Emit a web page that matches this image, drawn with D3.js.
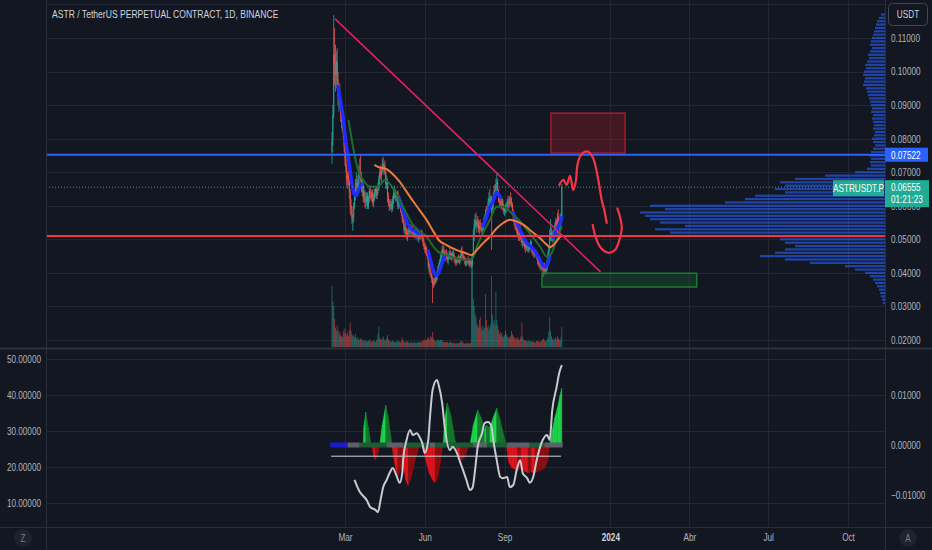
<!DOCTYPE html>
<html><head><meta charset="utf-8">
<script src="https://cdn.jsdelivr.net/npm/d3@7"></script>
<style>
html,body{margin:0;padding:0;background:#131722;overflow:hidden}
text{font-family:"Liberation Sans",Arial,sans-serif}
</style>
</head><body>
<svg id="c" width="932" height="550"></svg>
<script>
// ---------------- DATA ----------------
const startDate = "2023-02-14";
const firstOpen = 0.0760;
const closes = [
.0795,.0870,.1050,.1020,.0990,.1030,.0975,.0925,.0940,.0905,
.0870,.0850,.0860,.0815,.0775,.0740,.0715,.0680,.0690,.0670,
.0640,.0600,.0590,.0560,.0565,.0600,.0630,.0660,.0670,.0650,
.0665,.0700,.0690,.0685,.0655,.0660,.0625,.0640,.0610,.0615,
.0630,.0600,.0620,.0645,.0635,.0625,.0640,.0610,.0625,.0640,
.0650,.0630,.0645,.0660,.0680,.0700,.0690,.0705,.0725,.0715,
.0720,.0700,.0665,.0680,.0630,.0615,.0595,.0605,.0600,.0590,
.0620,.0635,.0645,.0625,.0630,.0640,.0600,.0615,.0605,.0590,
.0580,.0560,.0555,.0530,.0535,.0525,.0515,.0520,.0525,.0520,
.0535,.0525,.0530,.0520,.0515,.0525,.0510,.0520,.0525,.0505,
.0510,.0515,.0510,.0520,.0505,.0490,.0480,.0470,.0475,.0460,
.0450,.0420,.0425,.0400,.0395,.0380,.0365,.0375,.0370,.0385,
.0380,.0395,.0410,.0420,.0430,.0445,.0455,.0470,.0465,.0460,
.0450,.0455,.0445,.0440,.0450,.0455,.0460,.0450,.0445,.0455,
.0450,.0440,.0435,.0430,.0440,.0445,.0435,.0440,.0450,.0465,
.0450,.0445,.0440,.0435,.0430,.0435,.0440,.0435,.0425,.0435,
.0430,.0425,.0450,.0510,.0545,.0555,.0540,.0550,.0545,.0530,
.0540,.0535,.0530,.0525,.0540,.0555,.0565,.0580,.0575,.0590,
.0610,.0625,.0610,.0620,.0590,.0600,.0630,.0645,.0640,.0665,
.0670,.0640,.0620,.0615,.0605,.0600,.0615,.0595,.0585,.0590,
.0595,.0600,.0610,.0615,.0605,.0620,.0615,.0605,.0580,.0565,
.0550,.0545,.0535,.0525,.0515,.0505,.0520,.0510,.0500,.0490,
.0495,.0500,.0480,.0475,.0485,.0480,.0470,.0475,.0485,.0490,
.0470,.0465,.0460,.0455,.0460,.0455,.0450,.0435,.0430,.0425,
.0420,.0420,.0415,.0410,.0420,.0410,.0405,.0410,.0435,.0455,
.0470,.0510,.0520,.0505,.0515,.0505,.0515,.0545,.0555,.0540,
.0570,.0555,.0550,.0565,.0570,.0656];
const highs = [
.0820,.0900,.1168,.1130,.1080,.1060,.1070,.1000,.0950,.0965,
.0920,.0890,.0870,.0880,.0830,.0790,.0760,.0725,.0700,.0705,
.0680,.0650,.0620,.0600,.0575,.0610,.0640,.0680,.0700,.0690,
.0680,.0720,.0740,.0752,.0700,.0675,.0670,.0650,.0645,.0625,
.0640,.0640,.0630,.0660,.0660,.0650,.0645,.0650,.0635,.0650,
.0660,.0655,.0650,.0670,.0690,.0710,.0720,.0710,.0740,.0746,
.0730,.0735,.0705,.0690,.0680,.0640,.0620,.0615,.0620,.0615,
.0630,.0650,.0660,.0650,.0640,.0645,.0645,.0625,.0630,.0615,
.0605,.0585,.0570,.0560,.0545,.0550,.0535,.0530,.0535,.0540,
.0545,.0545,.0540,.0545,.0530,.0530,.0535,.0525,.0535,.0530,
.0515,.0525,.0520,.0530,.0525,.0510,.0500,.0490,.0485,.0480,
.0470,.0455,.0435,.0430,.0410,.0400,.0390,.0385,.0385,.0395,
.0400,.0405,.0420,.0430,.0440,.0455,.0465,.0480,.0485,.0480,
.0470,.0465,.0470,.0460,.0455,.0465,.0475,.0465,.0460,.0465,
.0470,.0460,.0450,.0445,.0445,.0450,.0455,.0450,.0455,.0475,
.0480,.0460,.0455,.0450,.0445,.0440,.0445,.0450,.0440,.0440,
.0445,.0435,.0460,.0530,.0560,.0575,.0580,.0560,.0570,.0560,
.0555,.0560,.0550,.0545,.0550,.0565,.0575,.0590,.0600,.0595,
.0620,.0640,.0650,.0630,.0630,.0620,.0640,.0660,.0665,.0680,
.0698,.0680,.0650,.0635,.0630,.0620,.0625,.0620,.0605,.0600,
.0605,.0610,.0620,.0630,.0625,.0630,.0640,.0625,.0610,.0590,
.0580,.0565,.0560,.0550,.0540,.0530,.0540,.0545,.0520,.0510,
.0505,.0510,.0505,.0490,.0490,.0495,.0490,.0485,.0490,.0500,
.0495,.0480,.0475,.0470,.0470,.0470,.0465,.0455,.0445,.0440,
.0435,.0430,.0430,.0425,.0430,.0430,.0420,.0415,.0440,.0465,
.0480,.0530,.0560,.0535,.0525,.0530,.0525,.0550,.0565,.0560,
.0580,.0590,.0560,.0575,.0580,.0665];
const lows = [
.0725,.0780,.0860,.0960,.0940,.0950,.0960,.0900,.0880,.0890,
.0850,.0830,.0820,.0800,.0760,.0720,.0700,.0660,.0650,.0660,
.0620,.0575,.0570,.0545,.0525,.0550,.0590,.0615,.0640,.0630,
.0635,.0655,.0680,.0670,.0640,.0630,.0610,.0610,.0595,.0590,
.0600,.0590,.0590,.0610,.0620,.0615,.0610,.0600,.0595,.0615,
.0625,.0620,.0620,.0635,.0645,.0665,.0680,.0670,.0695,.0700,
.0690,.0695,.0650,.0650,.0610,.0600,.0585,.0585,.0590,.0580,
.0585,.0605,.0620,.0615,.0610,.0615,.0590,.0590,.0595,.0580,
.0570,.0550,.0545,.0520,.0515,.0510,.0500,.0495,.0510,.0510,
.0515,.0515,.0510,.0515,.0505,.0505,.0505,.0500,.0510,.0495,
.0490,.0500,.0500,.0505,.0495,.0480,.0470,.0460,.0455,.0450,
.0440,.0410,.0400,.0390,.0385,.0370,.0310,.0355,.0360,.0365,
.0370,.0375,.0390,.0400,.0410,.0420,.0435,.0445,.0455,.0450,
.0440,.0435,.0440,.0430,.0425,.0440,.0440,.0440,.0435,.0440,
.0445,.0430,.0425,.0420,.0425,.0430,.0430,.0425,.0430,.0440,
.0445,.0440,.0435,.0425,.0420,.0420,.0425,.0430,.0420,.0415,
.0420,.0415,.0420,.0445,.0495,.0530,.0535,.0520,.0535,.0520,
.0515,.0525,.0520,.0515,.0510,.0530,.0540,.0550,.0560,.0560,
.0580,.0595,.0600,.0590,.0468,.0570,.0590,.0615,.0620,.0630,
.0650,.0630,.0610,.0600,.0595,.0590,.0590,.0585,.0575,.0570,
.0575,.0580,.0590,.0595,.0590,.0595,.0600,.0595,.0570,.0555,
.0540,.0530,.0525,.0515,.0505,.0495,.0495,.0500,.0490,.0480,
.0475,.0480,.0470,.0460,.0465,.0465,.0460,.0460,.0465,.0470,
.0460,.0455,.0450,.0445,.0445,.0450,.0440,.0425,.0420,.0415,
.0410,.0405,.0410,.0400,.0388,.0400,.0395,.0395,.0405,.0430,
.0445,.0465,.0495,.0495,.0490,.0495,.0490,.0505,.0520,.0515,
.0515,.0530,.0515,.0525,.0535,.0550];
const volumes = [
565,420,380,260,180,150,200,160,120,140,
110,100,90,150,130,170,120,110,140,100,
160,230,150,120,100,110,90,120,80,70,
90,70,60,80,70,60,50,70,60,50,
60,50,55,70,60,50,45,55,60,50,
45,60,70,120,185,90,70,60,80,100,
70,60,55,80,110,70,60,50,45,55,
60,50,45,40,50,55,60,45,50,40,
55,90,60,50,45,40,55,50,45,40,
35,40,45,40,35,50,40,35,45,40,
50,45,40,55,50,60,55,70,60,65,
80,90,70,80,100,90,140,80,60,55,
50,60,70,60,55,65,70,60,50,45,
45,40,50,45,40,35,50,45,40,35,
40,35,30,40,35,30,35,40,45,60,
50,40,35,30,35,30,40,35,30,35,
40,843,750,444,380,300,280,220,200,180,
250,280,185,150,200,160,180,490,250,180,
200,150,180,210,657,300,220,250,200,510,
250,200,160,120,140,110,130,100,90,110,
150,120,100,90,80,90,100,150,120,100,
90,80,70,80,90,70,60,80,100,230,
90,70,60,55,60,50,55,60,50,45,
55,50,45,50,45,40,55,60,50,45,
50,55,60,70,80,60,50,55,70,90,
140,280,150,100,80,70,60,80,90,70,
100,80,70,60,90,185];

// moving averages [dayIndex, price]
const maSlow = [[49,.0722],[53,.0716],[63,.0709],[69,.0697],[78,.0672],[86,.0642],[94,.0612],[101,.0587],[109,.0558],[117,.0523],[123,.0498],[132,.0483],[144,.0468],[155,.0458],[161,.0453],[167,.0468],[174,.0488],[182,.0508],[190,.0533],[197,.0548],[205,.0558],[213,.0553],[221,.0543],[228,.0528],[240,.0503],[248,.0483],[251,.0476],[257,.0488],[263,.0508],[265,.0515]];
const maMid = [[19,.0856],[25,.0766],[30,.0707],[36,.0677],[44,.0657],[53,.0657],[61,.0677],[69,.0657],[76,.0627],[84,.0587],[92,.0548],[101,.0523],[109,.0508],[117,.0478],[125,.0458],[132,.0453],[144,.0443],[155,.0438],[162,.0443],[167,.0478],[174,.0518],[182,.0558],[190,.0597],[197,.0597],[207,.0578],[217,.0553],[228,.0518],[240,.0478],[248,.0448],[253,.0458],[259,.0498],[265,.0538]];
const maFastSegments = [
 [[7,.0955],[10,.0910],[13,.0860],[16,.0790],[19,.0740],[22,.0685],[25,.0640],[28,.0630],[31,.0650],[34,.0665]],
 [[78,.0620],[82,.0585],[86,.0555],[90,.0535],[95,.0525],[101,.0515]],
 [[111,.0465],[114,.0435],[117,.0405],[120,.0392],[123,.0400],[127,.0430],[130,.0448]],
 [[174,.0540],[178,.0565],[182,.0595],[186,.0615],[190,.0640],[194,.0625]],
 [[209,.0580],[213,.0550],[217,.0528],[221,.0505],[225,.0488],[229,.0480],[233,.0468],[237,.0452],[241,.0432],[245,.0418],[248,.0422],[251,.0448]],
 [[255,.0505],[259,.0528],[262,.0545],[265,.0565]]
];

// volume profile rows [price, volume]
const profile = [
[.117,4],[.116,6],[.115,8],[.114,9],[.113,10],[.112,11],[.111,12],[.110,13],[.109,14],[.108,15],
[.107,13],[.106,15],[.105,17],[.104,16],[.103,18],[.102,20],[.101,19],[.100,21],[.099,22],[.098,20],
[.097,21],[.096,22],[.095,19],[.094,18],[.093,17],[.092,16],[.091,15],[.090,14],[.089,13],[.088,14],
[.087,12],[.086,13],[.085,12],[.084,11],[.083,12],[.082,10],[.081,11],[.080,13],[.079,12],[.078,10],
[.077,12],[.076,14],[.075,16],[.074,14],[.073,15],[.072,14],[.071,18],[.070,30],[.069,60],[.068,90],
[.067,105],[.066,100],[.065,110],[.064,100],[.063,130],[.062,140],[.061,160],[.060,235],[.059,220],[.058,245],
[.057,240],[.056,235],[.055,225],[.054,200],[.053,230],[.052,215],[.051,205],[.050,105],[.049,100],[.048,90],
[.047,100],[.046,110],[.045,125],[.044,100],[.043,75],[.042,40],[.041,30],[.040,20],[.039,15],[.038,12],
[.037,10],[.036,8],[.035,6],[.034,5],[.033,4],[.032,3],[.031,2]];

// oscillator: squeeze momentum [dayIndex, value] and ADX-like line [dayIndex, value]
const squeeze = [
[36,0],[37,.0040],[39,.0066],[42,.0035],[45,0],
[46,0],[48,-.0022],[50,-.0030],[53,-.0018],[55,0],
[55,0],[58,.0040],[62,.0080],[65,.0055],[68,.0015],[69,0],
[69,0],[72,-.0035],[76,-.0066],[79,-.0048],[82,-.0040],[85,-.0070],[88,-.0082],[92,-.0060],[96,-.0030],[101,0],
[104,0],[108,-.0030],[112,-.0055],[116,-.0070],[119,-.0076],[122,-.0065],[125,-.0035],[128,0],
[128,0],[130,.0050],[133,.0084],[137,.0060],[140,.0030],[143,0],
[143,0],[145,-.0020],[148,-.0034],[153,-.0025],[158,0],
[159,0],[163,.0040],[168,.0070],[172,.0055],[176,.0030],[178,.0040],[182,.0035],[186,.0055],[190,.0074],[194,.0050],[198,.0020],[201,0],
[201,0],[204,-.0035],[207,-.0045],[210,-.0048],[214,-.0050],[218,-.0046],[222,-.0052],[226,-.0056],[230,-.0054],[234,-.0056],[238,-.0052],[242,-.0050],[246,-.0045],[249,-.0030],[251,0],
[251,0],[254,.0030],[257,.0055],[260,.0075],[263,.0100],[265,.0114]];
const adx = [[26,16.4],[32,13.1],[37,11.7],[40,10.8],[44,8.9],[50,8.1],[53,7.5],[56,10.8],[59,14.4],[63,16.4],[67,18.6],[70,19.7],[75,17.2],[78,15.6],[81,18.3],[82,21.9],[86,27.5],[90,30.3],[93,28.9],[98,29.4],[101,28.3],[104,26.7],[107,23.9],[111,27.5],[113,33.9],[116,41.4],[121,44.2],[123,42.8],[127,37.8],[130,31.1],[136,24.7],[139,25.6],[144,23.9],[147,21.9],[151,19.2],[155,16.4],[159,13.6],[162,14.2],[165,19.2],[168,25.6],[173,29.4],[176,32.2],[180,32.5],[184,31.1],[186,27.5],[190,21.9],[194,17.2],[197,16.9],[202,17.2],[205,14.4],[209,15.0],[213,19.2],[217,21.9],[220,18.3],[225,16.9],[228,15.6],[232,17.2],[236,21.9],[240,25.6],[243,27.5],[248,28.9],[251,27.5],[254,35.8],[259,42.2],[262,46.1],[265,48.3]];
const adxLevel = 23;
const zeroSegs = [[-2,18,"blue"],[18,32,"gray"],[32,63,"green"],[63,82,"gray"],[82,113,"green"],[113,119,"gray"],[119,163,"green"],[163,179,"gray"],[179,202,"green"],[202,228,"gray"],[228,245,"green"],[245,266,"gray"]];

// axes
const priceTicks = [0.02,0.03,0.04,0.05,0.06,0.07,0.08,0.09,0.10,0.11];
const gridPrices = [0.02,0.03,0.04,0.05,0.06,0.07,0.08,0.09,0.10,0.11,0.12];
const timeTicks = ["2023-03-01","2023-06-01","2023-09-01","2024-01-01","2024-04-01","2024-07-01","2024-10-01"];
const timeTickLabels = ["Mar","Jun","Sep","2024","Abr","Jul","Oct"];
const oscTicksLeft = [10,20,30,40,50];
const oscTicksRight = [-0.01,0,0.01];

// drawings
const blueLevel = 0.07522, redLevel = 0.0510, lastPrice = 0.06555;
const countdown = "01:21:23", symbol = "ASTRUSDT.P", currency = "USDT";
const title = "ASTR / TetherUS PERPETUAL CONTRACT, 1D, BINANCE";
const trendLine = [[3.5,0.1157],[309.6,0.0403]];
const redBox = [[252.5,0.0876],[337.9,0.0757]];
const greenBox = [[242.1,0.0399],[420.5,0.0358]];
const sketch1 = [[262,.0662],[266.7,.0677],[270.6,.0662],[274.4,.0689],[278.2,.0647],[281.4,.0677],[282.9,.0721],[286.8,.0751],[291.7,.0761],[295.5,.0761],[301.3,.0741],[307.1,.0677],[311.0,.0617],[314.0,.0587],[316.8,.0549]];
const sketch2 = [[300.6,.0543],[303.3,.0513],[309.0,.0478],[318.6,.0460],[326.3,.0468],[331.3,.0498],[334.1,.0534],[332.1,.0567],[329.0,.0592]];

// ---------------- CHART ----------------
const W=932,H=550, L=46, R=885, mainBottom=348, oscTop=349, oscBottom=527;
const svg=d3.select("#c");
const C={bg:"#131722",grid:"#232733",border:"#2a2e39",text:"#b2b5be",up:"#26a69a",down:"#ef5350"};
const FS=10.5;
svg.append("rect").attr("width",W).attr("height",H).attr("fill",C.bg);

const t0 = Date.parse(startDate+"T00:00:00Z");
const dayDate = i => new Date(t0 + i*864e5);
const x = d3.scaleUtc().domain([new Date(Date.UTC(2023,2,1)), new Date(Date.UTC(2024,9,1))]).range([345,848]);
const y = d3.scaleLinear().domain([0.02,0.11]).range([340,38]);
const yVol = d3.scaleLinear().domain([0,1000]).range([mainBottom-1, mainBottom-109]);
const xProf = d3.scaleLinear().domain([0,250]).range([R, R-250]);
const yOscR = d3.scaleLinear().domain([-0.01,0.01]).range([495,395]);
const yOscL = d3.scaleLinear().domain([10,50]).range([503,359]);
const X = i => x(dayDate(i));

const defs=svg.append("defs");
defs.append("clipPath").attr("id","cm").append("rect").attr("x",L).attr("y",0).attr("width",R-L).attr("height",mainBottom);
defs.append("clipPath").attr("id","co").append("rect").attr("x",L).attr("y",oscTop).attr("width",R-L).attr("height",oscBottom-oscTop);

// grid
const grid=svg.append("g");
grid.selectAll(".hg").data(gridPrices).join("line").attr("x1",L).attr("x2",R).attr("y1",d=>Math.round(y(d))+0.5).attr("y2",d=>Math.round(y(d))+0.5).attr("stroke",C.grid);
grid.selectAll(".og").data(oscTicksLeft).join("line").attr("x1",L).attr("x2",R).attr("y1",d=>Math.round(yOscL(d))+0.5).attr("y2",d=>Math.round(yOscL(d))+0.5).attr("stroke",C.grid);
grid.selectAll(".vg").data(timeTicks).join("line").attr("x1",d=>Math.round(x(new Date(d+"T00:00:00Z")))+0.5).attr("x2",d=>Math.round(x(new Date(d+"T00:00:00Z")))+0.5).attr("y1",0).attr("y2",oscBottom).attr("stroke",C.grid);

// main pane
const main=svg.append("g").attr("clip-path","url(#cm)");
main.append("g").selectAll("rect").data(profile).join("rect")
 .attr("x",d=>xProf(d[1])).attr("width",d=>R-xProf(d[1]))
 .attr("y",d=>y(d[0])-1.1).attr("height",2.2).attr("fill","rgba(41,98,255,0.6)");

const candles = closes.map((c,i)=>{const o=i?closes[i-1]:firstOpen;return {i,o,c,h:Math.max(highs[i],o,c),l:Math.min(lows[i],o,c),v:volumes[i]};});
main.append("g").selectAll("rect").data(candles).join("rect")
 .attr("x",d=>X(d.i)-0.45).attr("width",0.9).attr("y",d=>yVol(d.v)).attr("height",d=>yVol(0)-yVol(d.v))
 .attr("fill",d=>d.c>=d.o?"rgba(38,166,154,0.55)":"rgba(239,83,80,0.55)");
const cg=main.append("g");
cg.selectAll("line").data(candles).join("line")
 .attr("x1",d=>X(d.i)).attr("x2",d=>X(d.i)).attr("y1",d=>y(d.h)).attr("y2",d=>y(d.l))
 .attr("stroke",d=>d.c>=d.o?C.up:C.down).attr("stroke-width",0.8);
cg.selectAll("rect").data(candles).join("rect")
 .attr("x",d=>X(d.i)-0.45).attr("width",0.9).attr("y",d=>Math.min(y(d.o),y(d.c))).attr("height",d=>Math.max(0.8,Math.abs(y(d.o)-y(d.c))))
 .attr("fill",d=>d.c>=d.o?C.up:C.down);
const ln=d3.line().x(d=>X(d[0])).y(d=>y(d[1])).curve(d3.curveMonotoneX);
maFastSegments.forEach(s=>main.append("path").attr("d",ln(s)).attr("fill","none").attr("stroke","#1f2bff").attr("stroke-width",3.5).attr("stroke-linecap","round"));
main.append("path").attr("d",ln(maMid)).attr("fill","none").attr("stroke","#1f6b2f").attr("stroke-width",2);
main.append("path").attr("d",ln(maSlow)).attr("fill","none").attr("stroke","#ef7c3a").attr("stroke-width",2);

[[blueLevel,"#2962ff"],[redLevel,"#f23645"]].forEach(([p,c])=>main.append("line").attr("x1",L).attr("x2",R).attr("y1",y(p)).attr("y2",y(p)).attr("stroke",c).attr("stroke-width",2));
main.append("line").attr("x1",L).attr("x2",R).attr("y1",y(lastPrice)).attr("y2",y(lastPrice)).attr("stroke","#26a69a").attr("stroke-width",1).attr("stroke-dasharray","1,2");
main.append("line").attr("x1",X(trendLine[0][0])).attr("y1",y(trendLine[0][1])).attr("x2",X(trendLine[1][0])).attr("y2",y(trendLine[1][1])).attr("stroke","#e91e63").attr("stroke-width",1.5);
const box=(b,fill,stroke)=>main.append("rect").attr("x",X(b[0][0])).attr("y",y(b[0][1])).attr("width",X(b[1][0])-X(b[0][0])).attr("height",y(b[1][1])-y(b[0][1])).attr("fill",fill).attr("stroke",stroke).attr("stroke-width",1.5);
box(redBox,"rgba(140,25,40,0.4)","#a31d2b");
box(greenBox,"rgba(30,110,50,0.3)","#1c7c33");
const sk=d3.line().x(d=>X(d[0])).y(d=>y(d[1])).curve(d3.curveCatmullRom);
[sketch1,sketch2].forEach(s=>main.append("path").attr("d",sk(s)).attr("fill","none").attr("stroke","#f23645").attr("stroke-width",2.2).attr("stroke-linecap","round").attr("stroke-linejoin","round"));

// oscillator pane
const osc=svg.append("g").attr("clip-path","url(#co)");
const hg=osc.append("g");
for(let k=0;k<squeeze.length-1;k++){
  const a=squeeze[k],b=squeeze[k+1]; if(b[0]===a[0]) continue;
  const mid=(a[1]+b[1])/2, pos=mid>0;
  const inc=Math.abs(b[1])>Math.abs(a[1]);
  const col=pos?(inc?"#1ed34a":"#137a2c"):(inc?"#e0131b":"#8a0f12");
  hg.append("path").attr("d",`M${X(a[0])},${yOscR(0)}L${X(a[0])},${yOscR(a[1])}L${X(b[0])},${yOscR(b[1])}L${X(b[0])},${yOscR(0)}Z`).attr("fill",col).attr("stroke",col).attr("stroke-width",0.4);
}
const segCol={blue:"#1c1ccc",gray:"#5d606b",green:"#1d5a36"};
zeroSegs.forEach(s=>osc.append("line").attr("x1",X(s[0])).attr("x2",X(s[1])).attr("y1",yOscR(0)).attr("y2",yOscR(0)).attr("stroke",segCol[s[2]]).attr("stroke-width",5));
osc.append("line").attr("x1",X(-1)).attr("x2",X(264)).attr("y1",yOscL(adxLevel)).attr("y2",yOscL(adxLevel)).attr("stroke","#d1d4dc").attr("stroke-width",1);
osc.append("path").attr("d",d3.line().x(d=>X(d[0])).y(d=>yOscL(d[1])).curve(d3.curveMonotoneX)(adx)).attr("fill","none").attr("stroke","#c8cad0").attr("stroke-width",2);

// borders
svg.append("line").attr("x1",L+0.5).attr("x2",L+0.5).attr("y1",0).attr("y2",H).attr("stroke",C.border);
svg.append("line").attr("x1",R+0.5).attr("x2",R+0.5).attr("y1",0).attr("y2",H).attr("stroke",C.border);
svg.append("line").attr("x1",0).attr("x2",W).attr("y1",mainBottom+0.5).attr("y2",mainBottom+0.5).attr("stroke","#2e323d").attr("stroke-width",2);
svg.append("line").attr("x1",0).attr("x2",W).attr("y1",oscBottom+0.5).attr("y2",oscBottom+0.5).attr("stroke",C.border);

// axes
const styleAxis=g=>{g.select(".domain").remove();g.selectAll("line").remove();g.selectAll("text").attr("fill",C.text).attr("font-size",FS).attr("font-family",'"Liberation Sans",Arial,sans-serif');};
svg.append("g").attr("transform",`translate(${R},0)`).call(d3.axisRight(y).tickValues(priceTicks).tickFormat(d3.format(".5f")).tickSize(0).tickPadding(6)).call(styleAxis);
svg.append("g").attr("transform",`translate(${R},0)`).call(d3.axisRight(yOscR).tickValues(oscTicksRight).tickFormat(d3.format(".5f")).tickSize(0).tickPadding(6)).call(styleAxis);
svg.append("g").attr("transform",`translate(${L},0)`).call(d3.axisLeft(yOscL).tickValues(oscTicksLeft).tickFormat(d3.format(".5f")).tickSize(0).tickPadding(5)).call(styleAxis);
const xa=svg.append("g").attr("transform",`translate(0,${oscBottom})`).call(d3.axisBottom(x).tickValues(timeTicks.map(d=>new Date(d+"T00:00:00Z"))).tickFormat((d,i)=>timeTickLabels[i]).tickSize(0).tickPadding(7)).call(styleAxis);
xa.selectAll("text").filter((d,i)=>timeTickLabels[i]==="2024").attr("fill","#d1d4dc").attr("font-weight","bold");

// title
svg.append("text").attr("x",52).attr("y",18).text(title).attr("fill","#d1d4dc").attr("font-size",11);

// currency box
svg.append("rect").attr("x",888.5).attr("y",3.5).attr("width",39).attr("height",22).attr("rx",4).attr("fill",C.bg).attr("stroke","#434651");
svg.append("text").attr("x",908).attr("y",18).attr("text-anchor","middle").text(currency).attr("fill","#d1d4dc").attr("font-size",FS);

// price labels
svg.append("rect").attr("x",R).attr("y",y(blueLevel)-7).attr("width",43).attr("height",14).attr("fill","#2962ff");
svg.append("text").attr("x",R+6).attr("y",y(blueLevel)+4).text(d3.format(".5f")(blueLevel)).attr("fill","#fff").attr("font-size",FS);
svg.append("rect").attr("x",R).attr("y",y(lastPrice)-7).attr("width",44).attr("height",27).attr("fill","#22ab94");
svg.append("text").attr("x",R+6).attr("y",y(lastPrice)+4).text(d3.format(".5f")(lastPrice)).attr("fill","#fff").attr("font-size",FS);
svg.append("text").attr("x",R+6).attr("y",y(lastPrice)+16).text(countdown).attr("fill","#fff").attr("font-size",FS);
svg.append("rect").attr("x",R-52).attr("y",y(lastPrice)-7).attr("width",51).attr("height",16).attr("fill","#22ab94");
svg.append("text").attr("x",R-26.5).attr("y",y(lastPrice)+5).attr("text-anchor","middle").text(symbol).attr("fill","#fff").attr("font-size",FS);

// corner buttons
[[23,"Z"],[908,"A"]].forEach(([cx,t])=>{svg.append("circle").attr("cx",cx).attr("cy",538).attr("r",9).attr("fill","#1e222d");svg.append("text").attr("x",cx).attr("y",542).attr("text-anchor","middle").text(t).attr("fill","#787b86").attr("font-size",FS);});

// condense all text horizontally around its anchor point (the reference uses a narrow face)
const K=0.78;
svg.selectAll("text").each(function(){
  const x0=parseFloat(this.getAttribute("x")||0);
  this.setAttribute("transform",`translate(${x0},0) scale(${K},1) translate(${-x0},0)`);
});
</script>
</body></html>
